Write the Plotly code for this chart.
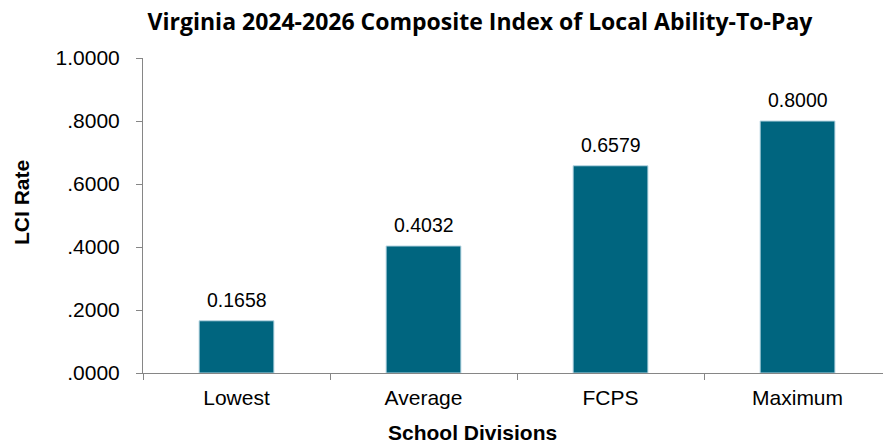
import plotly.graph_objects as go

# Composite index values by school division group
categories = ["Lowest", "Average", "FCPS", "Maximum"]
lci_values = [0.1658, 0.4032, 0.6579, 0.8000]
y_tick_values = [0.0, 0.2, 0.4, 0.6, 0.8, 1.0]
y_tick_labels = [".0000", ".2000", ".4000", ".6000", ".8000", "1.0000"]

W, H = 883, 446
BAR_COLOR = "#00657F"
AXIS_COLOR = "#868686"
LABEL_FONT = "Liberation Sans, Arial, sans-serif"

fig = go.Figure(
    go.Bar(
        x=categories,
        y=lci_values,
        marker=dict(color=BAR_COLOR, line=dict(color="#b9d7e3", width=1)),
        hoverinfo="skip",
    )
)

# Value labels above each bar
for cat, val in zip(categories, lci_values):
    fig.add_annotation(
        x=cat, y=val, text=f"{val:.4f}", showarrow=False,
        yanchor="bottom", yshift=8,
        font=dict(family=LABEL_FONT, size=19.5, color="#000000"),
    )

# Axis titles placed as paper annotations
fig.add_annotation(
    text="<b>School Divisions</b>", showarrow=False,
    xref="paper", yref="paper", xanchor="center", yanchor="bottom",
    x=(472 - 143) / (W - 143), y=-(445 - 373) / (373 - 58),
    borderpad=0,
    font=dict(family=LABEL_FONT, size=21, color="#000000"),
)
fig.add_annotation(
    text="<b>LCI Rate</b>", showarrow=False, textangle=-90,
    xref="paper", yref="paper", xanchor="center", yanchor="middle",
    x=-(143 - 21) / (W - 143), y=(373 - 203) / (373 - 58),
    font=dict(family=LABEL_FONT, size=21, color="#000000"),
)

fig.update_layout(
    width=W, height=H,
    margin=dict(l=143, r=0, t=58, b=73),
    paper_bgcolor="white", plot_bgcolor="white",
    bargap=0.6,
    showlegend=False,
    title=dict(
        text="<b>Virginia 2024-2026 Composite Index of Local Ability-To-Pay</b>",
        x=480 / W, xanchor="center", y=1 - 22 / H, yanchor="middle",
        font=dict(family="Open Sans, sans-serif", size=23, color="#000000"),
    ),
)

fig.update_xaxes(
    range=[-0.5, 3.457],
    showline=True, linecolor=AXIS_COLOR, linewidth=1,
    ticks="outside", tickson="boundaries", ticklen=6, tickcolor=AXIS_COLOR,
    ticklabelstandoff=6,
    showgrid=False, zeroline=False,
    tickfont=dict(family=LABEL_FONT, size=21, color="#000000"),
)

fig.update_yaxes(
    range=[0, 1.0],
    tickvals=y_tick_values, ticktext=y_tick_labels,
    showline=True, linecolor=AXIS_COLOR, linewidth=1,
    ticks="outside", ticklen=6, tickcolor=AXIS_COLOR,
    ticklabelstandoff=12,
    showgrid=False, zeroline=False,
    tickfont=dict(family=LABEL_FONT, size=21, color="#000000"),
)

fig.write_html("out.html")
